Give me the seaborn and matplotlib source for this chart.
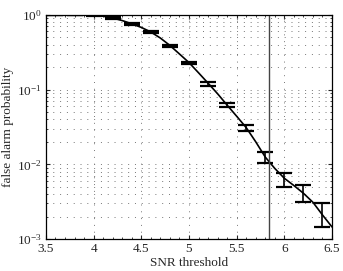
import numpy as np
import pandas as pd
import matplotlib
matplotlib.use('Agg')
import matplotlib.pyplot as plt
import seaborn as sns
from matplotlib.ticker import LogLocator, MultipleLocator, LogFormatterSciNotation

# curve (every 0.1 in SNR threshold)
snr = [3.5, 3.6, 3.7, 3.8, 3.9, 4.0, 4.1, 4.2, 4.3, 4.4, 4.5, 4.6, 4.7, 4.8,
       4.9, 5.0, 5.1, 5.2, 5.3, 5.4, 5.5, 5.6, 5.7, 5.8, 5.9, 6.0, 6.1, 6.2,
       6.3, 6.4, 6.5]
p_fa = [1.0, 1.0, 1.0, 1.0, 0.995, 0.985, 0.96, 0.91, 0.84, 0.76, 0.68, 0.59,
        0.49, 0.39, 0.30, 0.23, 0.168, 0.122, 0.088, 0.062, 0.044, 0.031,
        0.020, 0.0125, 0.0088, 0.0065, 0.0052, 0.0041, 0.0031, 0.0021, 0.00145]

# error bars (every 0.2)
bar_x = [3.6, 3.8, 4.0, 4.2, 4.4, 4.6, 4.8, 5.0, 5.2, 5.4, 5.6, 5.8, 6.0, 6.2, 6.4]
bar_lo = [0.995, 0.995, 0.98, 0.89, 0.74, 0.575, 0.37, 0.219, 0.113, 0.058,
          0.028, 0.0105, 0.0049, 0.00317, 0.00144]
bar_hi = [1.0, 1.0, 1.0, 0.93, 0.78, 0.605, 0.40, 0.237, 0.128, 0.067,
          0.0337, 0.0144, 0.0076, 0.0053, 0.00306]

threshold = 5.843

df = pd.DataFrame({'snr': snr, 'p': p_fa})
bars = pd.DataFrame({'x': bar_x, 'lo': bar_lo, 'hi': bar_hi})
bars['mid'] = np.sqrt(bars.lo * bars.hi)

sns.set_style('ticks')
plt.rcParams['font.family'] = ['Liberation Serif', 'DejaVu Serif']
plt.rcParams['mathtext.fontset'] = 'stix'

fig = plt.figure(figsize=(3.43, 2.71), dpi=100)
ax = fig.add_axes([0.134, 0.118, 0.834, 0.827])

ax.set_yscale('log')
ax.set_xlim(3.5, 6.5)
ax.set_ylim(1e-3, 1)

sns.lineplot(data=df, x='snr', y='p', color='black', lw=1.2, ax=ax)
ax.errorbar(bars.x, bars.mid,
            yerr=[bars.mid - bars.lo, bars.hi - bars.mid],
            fmt='none', ecolor='black', elinewidth=1.2, capsize=6,
            capthick=1.6)
ax.axvline(threshold, color='#444444', lw=1)

ax.xaxis.set_major_locator(MultipleLocator(0.5))
ax.xaxis.set_minor_locator(MultipleLocator(0.1))
ax.yaxis.set_major_locator(LogLocator(base=10))
ax.yaxis.set_minor_locator(LogLocator(base=10, subs=np.arange(2, 10)))
ax.yaxis.set_major_formatter(LogFormatterSciNotation())
ax.set_xticks([3.5, 4, 4.5, 5, 5.5, 6, 6.5])
ax.set_xticklabels(['3.5', '4', '4.5', '5', '5.5', '6', '6.5'])

ax.grid(True, which='major', axis='x', ls=(0, (1, 6)), color='#777777', lw=0.7)
ax.grid(True, which='both', axis='y', ls=(0, (1, 6)), color='#777777', lw=0.7)

ax.tick_params(which='both', direction='in', top=True, right=True,
               labelsize=9.5, pad=3)
ax.tick_params(which='major', length=3)
ax.tick_params(which='minor', length=1.5)
for s in ax.spines.values():
    s.set_color('black')
    s.set_linewidth(0.9)

ax.set_xlabel('SNR threshold', fontsize=9.5, labelpad=1)
ax.set_ylabel('false alarm probability', fontsize=9.5, labelpad=2)

fig.savefig('out.png', dpi=100)
